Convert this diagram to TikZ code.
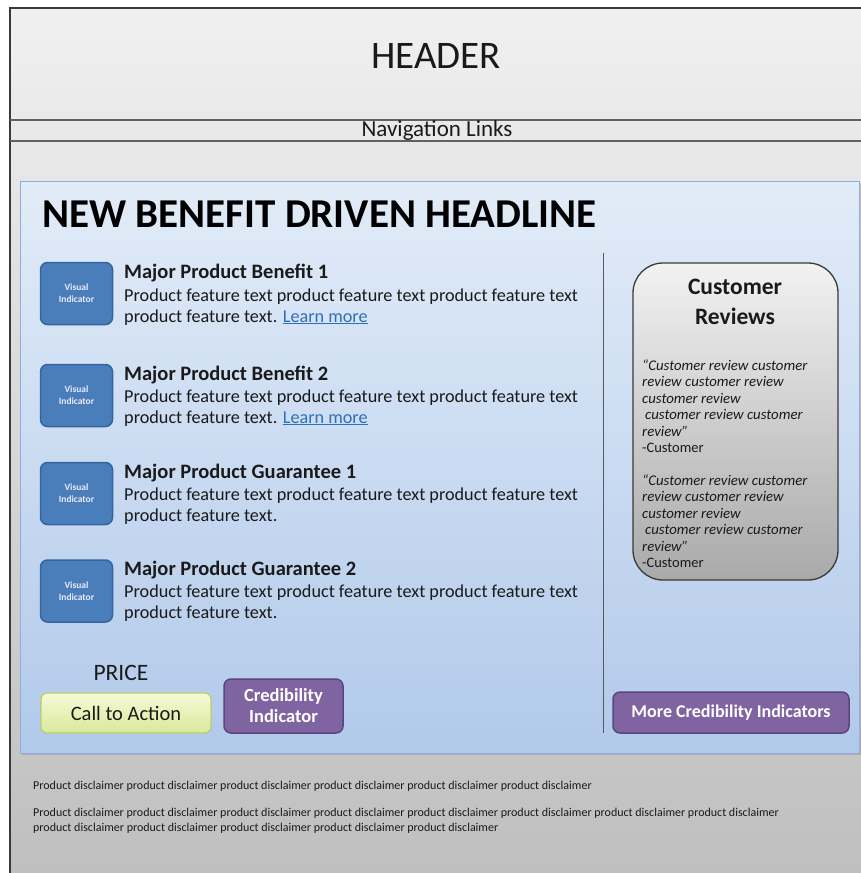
\documentclass[tikz,border=0pt]{standalone}
\usepackage{fontspec}
\setmainfont{Carlito}
\usetikzlibrary{shadows}
\definecolor{bgtop}{HTML}{F0F0F0}
\definecolor{bgbot}{HTML}{BFBFBF}
\definecolor{framecol}{HTML}{3A3A3A}
\definecolor{paneltop}{HTML}{E2ECF8}
\definecolor{panelbot}{HTML}{B1C9EA}
\definecolor{panelborder}{HTML}{8EAFD9}
\definecolor{vifill}{HTML}{4A7EBB}
\definecolor{viborder}{HTML}{35659F}
\definecolor{revtop}{HTML}{F2F2F2}
\definecolor{revbot}{HTML}{A9A9A9}
\definecolor{ctatop}{HTML}{F6FAD6}
\definecolor{ctabot}{HTML}{D8E99A}
\definecolor{ctaborder}{HTML}{B9CD72}
\definecolor{purfill}{HTML}{8064A2}
\definecolor{purborder}{HTML}{5A4580}
\definecolor{linkcol}{HTML}{2F6FB8}
\definecolor{txt}{HTML}{1A1A1A}
\begin{document}
\begin{tikzpicture}[x=1pt,y=-1pt,
  vibox/.style={rounded corners=7pt, fill=vifill, draw=viborder, line width=1.5pt,
    minimum width=72, minimum height=62, inner sep=0pt, text=white!92!blue, align=center,
    font=\bfseries\fontsize{9.5}{12}\selectfont},
  ttl/.style={anchor=base west, inner sep=0pt, text=txt, font=\bfseries\fontsize{20.5}{22}\selectfont},
  body/.style={anchor=base west, inner sep=0pt, text=txt, font=\fontsize{18.2}{20}\selectfont},
  rev/.style={anchor=base west, inner sep=0pt, text=txt, font=\itshape\fontsize{14.8}{16}\selectfont},
  revn/.style={anchor=base west, inner sep=0pt, text=txt, font=\fontsize{14.5}{16}\selectfont},
  disc/.style={anchor=base west, inner sep=0pt, text=txt, font=\fontsize{12}{13}\selectfont},
  purbtn/.style={rounded corners=7pt, fill=purfill, draw=purborder, line width=1.5pt,
    text=white, align=center, inner sep=0pt},
]
\useasboundingbox (0,0) rectangle (861,873);
% page background
\shade[top color=bgtop, bottom color=bgbot] (10,8) rectangle (861,873);
\draw[framecol, line width=1.3pt] (10,873) -- (10,8) -- (861,8);
\draw[framecol!80, line width=1.5pt] (10,120) -- (861,120);
\draw[framecol!80, line width=1.5pt] (10,141) -- (861,141);
\node[inner sep=0pt, text=txt, font=\fontsize{39}{42}\selectfont] (header) at (436,56) {HEADER};
\node[inner sep=0pt, text=txt, font=\fontsize{23}{24}\selectfont] (nav) at (437,130) {Navigation Links};

% main panel
\node[top color=paneltop, bottom color=panelbot, draw=panelborder, line width=1pt,
  minimum width=839, minimum height=572, inner sep=0pt,
  drop shadow={shadow xshift=2pt, shadow yshift=-2pt, opacity=0.35}] (panel) at (439.5,467) {};
\draw[gray!70!black, line width=0.8pt] (603,253) -- (603,733);

\node[anchor=base west, inner sep=0pt, text=black, font=\bfseries\fontsize{41}{44}\selectfont] (headline) at (42,227) {NEW BENEFIT DRIVEN HEADLINE};

% rows
\node[vibox] (vi1) at (76.5,293.5) {Visual\\Indicator};
\node[ttl] (t1) at (124,278) {Major Product Benefit 1};
\node[body] (b1a) at (124,301) {Product feature text product feature text product feature text};
\node[body] (b1b) at (124,322) {product feature text. \textcolor{linkcol}{\underline{Learn more}}};

\node[vibox] (vi2) at (76.5,395.5) {Visual\\Indicator};
\node[ttl] (t2) at (124,380) {Major Product Benefit 2};
\node[body] (b2a) at (124,402) {Product feature text product feature text product feature text};
\node[body] (b2b) at (124,423) {product feature text. \textcolor{linkcol}{\underline{Learn more}}};

\node[vibox] (vi3) at (76.5,493.5) {Visual\\Indicator};
\node[ttl] (t3) at (124,478) {Major Product Guarantee 1};
\node[body] (b3a) at (124,500) {Product feature text product feature text product feature text};
\node[body] (b3b) at (124,521) {product feature text.};

\node[vibox] (vi4) at (76.5,591) {Visual\\Indicator};
\node[ttl] (t4) at (124,575) {Major Product Guarantee 2};
\node[body] (b4a) at (124,597) {Product feature text product feature text product feature text};
\node[body] (b4b) at (124,618) {product feature text.};

% customer reviews
\node[rounded corners=30pt, top color=revtop, bottom color=revbot, draw=framecol, line width=1.3pt,
  minimum width=205, minimum height=317, inner sep=0pt] (reviews) at (735.5,421.5) {};
\node[inner sep=0pt, align=center, text=txt, font=\bfseries\fontsize{23.5}{30}\selectfont] (revtitle) at (735,302) {Customer\\Reviews};
\node[rev] (r1) at (642,370) {“Customer review customer};
\node[rev] (r2) at (642,386.5) {review customer review};
\node[rev] (r3) at (642,403) {customer review};
\node[rev] (r4) at (642,419.5) {\hspace{3pt}customer review customer};
\node[rev] (r5) at (642,436) {review”};
\node[revn] (r6) at (642,452.5) {-Customer};
\node[rev] (s1) at (642,485) {“Customer review customer};
\node[rev] (s2) at (642,501.5) {review customer review};
\node[rev] (s3) at (642,518) {customer review};
\node[rev] (s4) at (642,534.5) {\hspace{3pt}customer review customer};
\node[rev] (s5) at (642,551) {review”};
\node[revn] (s6) at (642,567) {-Customer};

% bottom buttons
\node[inner sep=0pt, text=txt, font=\fontsize{23.5}{24}\selectfont] (price) at (121,673) {PRICE};
\node[rounded corners=6pt, top color=ctatop, bottom color=ctabot, draw=ctaborder, line width=1.3pt,
  minimum width=170, minimum height=40, inner sep=0pt, text=txt, font=\fontsize{20.5}{22}\selectfont] (cta) at (126,713) {Call to Action};
\node[purbtn, minimum width=119, minimum height=54, font=\bfseries\fontsize{18.5}{21}\selectfont] (cred) at (283.5,706) {Credibility\\Indicator};
\node[purbtn, minimum width=236, minimum height=41, font=\bfseries\fontsize{18}{20}\selectfont] (more) at (731,712.5) {More Credibility Indicators};

% disclaimers
\node[disc] (d1) at (33,789) {Product disclaimer product disclaimer product disclaimer product disclaimer product disclaimer product disclaimer};
\node[disc] (d2) at (33,816) {Product disclaimer product disclaimer product disclaimer product disclaimer product disclaimer product disclaimer product disclaimer product disclaimer};
\node[disc] (d3) at (33,831) {product disclaimer product disclaimer product disclaimer product disclaimer product disclaimer};
\end{tikzpicture}
\end{document}
